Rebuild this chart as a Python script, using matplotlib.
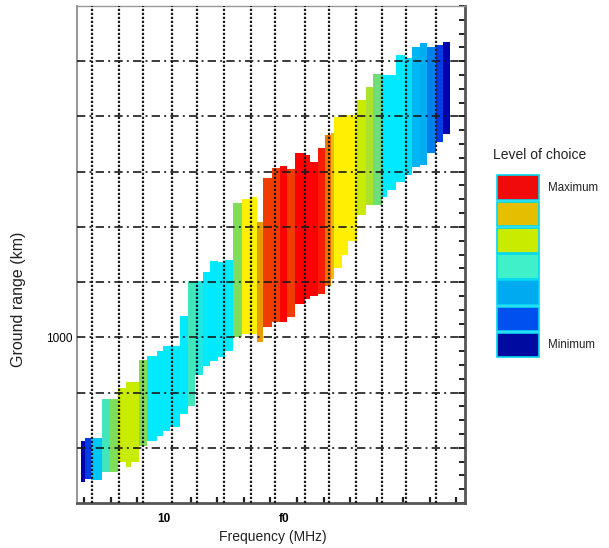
import matplotlib
matplotlib.use("Agg")
import matplotlib.pyplot as plt
import numpy as np
from matplotlib.colors import LinearSegmentedColormap
from matplotlib.patches import Rectangle

plt.rcParams['font.family'] = ['Liberation Sans', 'DejaVu Sans']

# ---- data -------------------------------------------------------------
# column edges along frequency (MHz), 49 columns
freq_edges = [6.88, 7.03, 7.26, 7.67, 7.93, 8.27, 8.57, 8.76, 9.06, 9.36,
              9.74, 9.96, 10.23, 10.60, 10.90, 11.17, 11.47, 11.73, 12.03, 12.29,
              12.59, 12.93, 13.23, 13.50, 13.72, 14.06, 14.36, 14.62, 14.92, 15.30,
              15.49, 15.79, 16.05, 16.28, 16.39, 16.69, 16.92, 17.26, 17.59, 17.86,
              18.20, 18.38, 18.72, 19.06, 19.32, 19.62, 19.89, 20.23, 20.49, 20.75]
range_top = [530, 543, 543, 720, 720, 769, 797, 797, 896, 914,
             937, 959, 959, 1095, 1253, 1253, 1298, 1344, 1339, 1348,
             1606, 1628, 1637, 1524, 1723, 1768, 1777, 1764, 1836, 1827,
             1796, 1859, 1918, 1927, 1999, 2008, 2008, 2076, 2135, 2193,
             2189, 2189, 2279, 2266, 2315, 2333, 2315, 2324, 2338]
range_bottom = [345, 358, 354, 390, 390, 435, 412, 435, 507, 530,
                553, 575, 593, 652, 688, 828, 869, 892, 910, 937,
                1000, 1014, 1014, 977, 1045, 1068, 1068, 1090, 1149, 1172,
                1185, 1194, 1231, 1262, 1316, 1375, 1434, 1556, 1601, 1601,
                1637, 1669, 1705, 1737, 1773, 1782, 1836, 1886, 1922]
# level of choice (0 = minimum ... 11 = maximum)
level = [0, 1, 2.5, 4, 5, 6, 6, 6, 5, 3,
         3, 3, 3, 3, 4, 3.5, 3, 3, 3, 3,
         5, 7, 7, 8.5, 10, 10, 11, 10, 11, 11,
         11, 10.5, 9, 8, 7, 7, 7, 6, 5.5, 4.7,
         3, 3, 3, 2.8, 2.3, 2.2, 1.7, 1, 0]

x_minor_ticks = list(range(7, 22))
x_tick_pos = [10, 14.5]
x_tick_labels = ['10', 'f0']
x_grid = [7.29, 8.31, 9.21, 10.3, 11.24, 12.26, 13.27, 14.17, 15.3, 16.2,
          17.22, 18.2, 19.1, 20.23]
y_grid = [500, 750, 1000, 1250, 1500, 1750, 2000, 2250]
y_tick_pos = [1000]
y_tick_labels = ['1000']
y_minor_ticks = list(np.arange(250, 2501, 62.5))

legend_labels = ['Maximum', '', '', '', '', '', 'Minimum']
legend_colors = ['#f00a0a', '#e6be00', '#c8eb00', '#40f0c8', '#00aaf0', '#0050f0', '#000aa0']

# ---- style ------------------------------------------------------------
stops = ['#0000b0', '#003ce6', '#00a0f0', '#00ebff', '#40e6be', '#82dc5a',
         '#c8eb00', '#fff000', '#ebbe00', '#eb7800', '#f03c00', '#ff0000']
cmap = LinearSegmentedColormap.from_list('choice', stops)

W, H = 609, 548
fig = plt.figure(figsize=(W / 100, H / 100), dpi=100)
ax = fig.add_axes([77 / W, 1 - 503 / H, (465 - 77) / W, (503 - 6) / H])

edges = np.array(freq_edges)
widths = np.diff(edges)
tops = np.array(range_top)
bots = np.array(range_bottom)
cols = [cmap(v / 11.0) for v in level]
ax.bar(edges[:-1], tops - bots, width=widths + 0.01, bottom=bots, align='edge',
       color=cols, linewidth=0, zorder=1)

for xg in x_grid:
    ax.axvline(xg, color='#1a1a1a', linewidth=1.6, linestyle=(0, (1.0, 0.8)), zorder=3)
for yg in y_grid:
    ax.axhline(yg, color='#1a1a1a', linewidth=1.2, linestyle=(0, (5, 2.5, 1.2, 2.5)), zorder=3)

ax.set_xlim(6.73, 21.32)
ax.set_ylim(250, 2500)

ax.set_xticks(x_tick_pos)
ax.set_xticklabels(x_tick_labels, fontsize=8.5, fontweight='bold')
ax.set_xticks(x_minor_ticks, minor=True)
ax.tick_params(axis='x', which='major', length=0, pad=7)
ax.tick_params(axis='x', which='minor', direction='in', length=4.5, width=1.6,
               color='#222222', bottom=True, top=False)

ax.set_yticks(y_tick_pos)
ax.set_yticklabels(y_tick_labels, fontsize=8.5)
ax.set_yticks(y_minor_ticks, minor=True)
ax.tick_params(axis='y', which='both', left=False, right=True, direction='in',
               length=4.5, width=1.4, color='#222222', labelleft=True,
               labelright=False, pad=3)

for s, (c, lw) in {'bottom': ('#555555', 2.0), 'right': ('#555555', 2.0),
                   'top': ('#999999', 1.0), 'left': ('#999999', 1.5)}.items():
    ax.spines[s].set_color(c)
    ax.spines[s].set_linewidth(lw)

fig.text(273 / W, 1 - 537 / H, 'Frequency (MHz)', ha='center', va='center',
         fontsize=10, color='#222222')
fig.text(19 / W, 1 - 299 / H, 'Ground range (km)', ha='center', va='center',
         rotation=90, fontsize=11.5, color='#222222')

# legend
fig.text(493 / W, 1 - 155 / H, 'Level of choice', ha='left', va='center',
         fontsize=10, color='#222222')
box_top = 175
box_h = 26.2
for i, (c, lab) in enumerate(zip(legend_colors, legend_labels)):
    y0 = box_top + i * box_h
    fig.patches.append(Rectangle((497 / W, 1 - (y0 + box_h - 1) / H), 42 / W,
                                 (box_h - 1.5) / H, transform=fig.transFigure,
                                 facecolor=c, edgecolor='#00d8f0', linewidth=1.2))
    if lab:
        fig.text(548 / W, 1 - (y0 + box_h / 2) / H, lab, ha='left', va='center',
                 fontsize=8.3, color='#222222')

fig.savefig('out.png', dpi=100)
